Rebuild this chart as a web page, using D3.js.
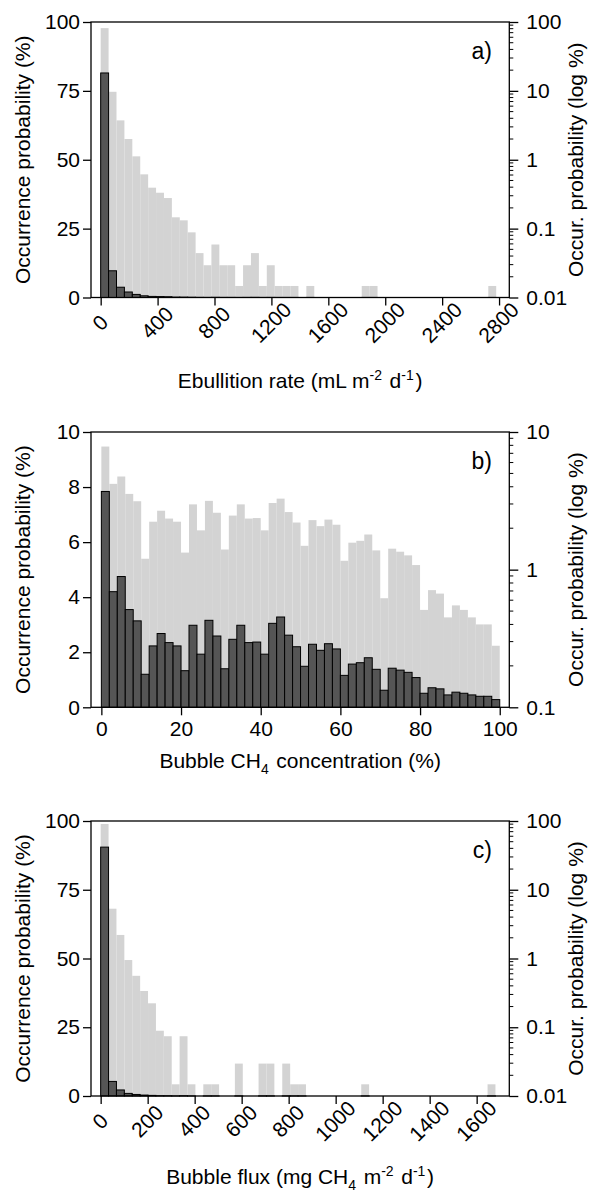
<!DOCTYPE html>
<html>
<head>
<meta charset="utf-8">
<script src="https://cdn.jsdelivr.net/npm/d3@7"></script>
<style>
  html, body { margin: 0; padding: 0; background: #fff; }
  svg { display: block; }
  text { font-family: "Liberation Sans", Arial, Helvetica, sans-serif; fill: #000; }
</style>
</head>
<body>
<div id="chart"></div>
<script>
// ---------------- DATA ----------------
// a) Ebullition rate histogram (bin width ~55.6 mL m-2 d-1), occurrence probability (%)
const binWidthA = 55.6;
const probA = [81.5, 9.7, 3.73, 2.0, 1.12, 0.614, 0.393, 0.332, 0.278, 0.146,
               0.132, 0.0883, 0.0441, 0.0294, 0.0588, 0.0294, 0.0294, 0.0147, 0.0294, 0.0441,
               0.0147, 0.0294, 0.0147, 0.0147, 0.0147, 0, 0.0147, 0, 0, 0,
               0, 0, 0, 0.0147, 0.0147, 0, 0, 0, 0, 0,
               0, 0, 0, 0, 0, 0, 0, 0, 0, 0.0147];
const xTicksA = [0, 400, 800, 1200, 1600, 2000, 2400, 2800];

// b) Bubble CH4 concentration histogram (bin width 2 %)
const binWidthB = 2;
const probB = [7.84, 4.20, 4.75, 3.55, 3.14, 1.20, 2.23, 2.68, 2.35, 2.23,
               1.33, 2.98, 1.93, 3.16, 2.59, 1.40, 2.47, 2.98, 2.35, 2.37,
               1.93, 3.05, 3.28, 2.62, 2.20, 1.49, 2.29, 2.07, 2.31, 2.12,
               1.16, 1.57, 1.62, 1.80, 1.38, 0.62, 1.42, 1.35, 1.27, 1.08,
               0.51, 0.71, 0.67, 0.45, 0.55, 0.51, 0.45, 0.40, 0.40, 0.28];
const xTicksB = [0, 20, 40, 60, 80, 100];

// c) Bubble flux histogram (bin width 33.6 mg CH4 m-2 d-1)
const binWidthC = 33.6;
const probC = [90.5, 5.3, 2.2, 0.95, 0.56, 0.337, 0.223, 0.089, 0.074, 0.0148,
               0.074, 0.0148, 0, 0.0148, 0.0148, 0, 0, 0.0296, 0, 0,
               0.0296, 0.0296, 0, 0.0296, 0.0148, 0.0148, 0, 0, 0, 0,
               0, 0, 0, 0.0148, 0, 0, 0, 0, 0, 0,
               0, 0, 0, 0, 0, 0, 0, 0, 0, 0.0148];
const xTicksC = [0, 200, 400, 600, 800, 1000, 1200, 1400, 1600];

const linTicks100 = [0, 25, 50, 75, 100];
const linTicks10 = [0, 2, 4, 6, 8, 10];
const logTicks4 = [0.01, 0.1, 1, 10, 100];
const logLabels4 = ["0.01", "0.1", "1", "10", "100"];
const logTicks2 = [0.1, 1, 10];
const logLabels2 = ["0.1", "1", "10"];

// ---------------- LAYOUT ----------------
const W = 589, H = 1195;
const X0 = 91, X1 = 509.3;
const FS = 21;
const svg = d3.select("#chart").append("svg").attr("width", W).attr("height", H);

function panel(cfg) {
  const g = svg.append("g");
  const x = d3.scaleLinear().domain(cfg.xDomain).range([X0, X1]);
  const yLin = d3.scaleLinear().domain([0, cfg.linMax]).range([cfg.bottom, cfg.top]);
  const yLog = d3.scaleLog().domain([cfg.logMin, cfg.logMax]).range([cfg.bottom, cfg.top]);
  const bins = cfg.values.map((v, i) => ({ v, x0: i * cfg.binWidth, x1: (i + 1) * cfg.binWidth }));

  // light bars: log scale
  g.append("g").selectAll("rect").data(bins.filter(d => d.v > 0)).join("rect")
    .attr("x", d => x(d.x0)).attr("width", d => x(d.x1) - x(d.x0))
    .attr("y", d => yLog(d.v)).attr("height", d => yLog(cfg.logMin) - yLog(d.v))
    .attr("fill", "#d3d3d3");

  // dark bars: linear scale
  g.append("g").selectAll("rect").data(bins.filter(d => d.v > 0)).join("rect")
    .attr("x", d => x(d.x0)).attr("width", d => x(d.x1) - x(d.x0))
    .attr("y", d => yLin(d.v)).attr("height", d => yLin(0) - yLin(d.v))
    .attr("fill", "#555555").attr("stroke", "#000").attr("stroke-width", 1);

  // frame
  g.append("rect").attr("x", X0).attr("y", cfg.top).attr("width", X1 - X0).attr("height", cfg.bottom - cfg.top)
    .attr("fill", "none").attr("stroke", "#000").attr("stroke-width", 1.3);

  // left axis
  const yl = d3.axisLeft(yLin).tickValues(cfg.linTicks).tickSize(8).tickPadding(3).tickFormat(d3.format("d"));
  const gl = g.append("g").attr("transform", `translate(${X0},0)`).call(yl);
  gl.select(".domain").remove();
  gl.selectAll(".tick line").attr("stroke-width", 1.3);
  gl.selectAll(".tick text").attr("font-size", FS).style("font-family", "Liberation Sans, Arial, sans-serif").attr("fill", "#000");

  // right axis (log) major
  const yr = d3.axisRight(yLog).tickValues(cfg.logTicks).tickSize(9).tickPadding(8)
    .tickFormat((d, i) => cfg.logLabels[i]);
  const gr = g.append("g").attr("transform", `translate(${X1},0)`).call(yr);
  gr.select(".domain").remove();
  gr.selectAll(".tick line").attr("stroke-width", 1.3);
  gr.selectAll(".tick text").attr("font-size", FS).style("font-family", "Liberation Sans, Arial, sans-serif").attr("fill", "#000");
  // right axis minor ticks
  const minors = [];
  cfg.logTicks.slice(0, -1).forEach(dec => { for (let k = 2; k <= 9; k++) minors.push(dec * k); });
  g.append("g").selectAll("line").data(minors).join("line")
    .attr("x1", X1).attr("x2", X1 + 4).attr("y1", d => yLog(d)).attr("y2", d => yLog(d))
    .attr("stroke", "#000").attr("stroke-width", 1);

  // bottom axis
  const xb = d3.axisBottom(x).tickValues(cfg.xTicks).tickSize(8).tickFormat(d3.format("d"));
  const gb = g.append("g").attr("transform", `translate(0,${cfg.bottom})`).call(xb);
  gb.select(".domain").remove();
  gb.selectAll(".tick line").attr("stroke-width", 1.3);
  const tt = gb.selectAll(".tick text").attr("font-size", FS).style("font-family", "Liberation Sans, Arial, sans-serif").attr("fill", "#000");
  if (cfg.rotate) {
    tt.attr("y", null).attr("dy", null)
      .attr("text-anchor", "middle")
      .attr("dominant-baseline", "central")
      .attr("transform", "translate(-1,25) rotate(-45)");
  } else {
    tt.attr("y", 14).attr("dy", "0.71em");
  }

  // axis titles
  g.append("text").attr("transform", `translate(30,${(cfg.top + cfg.bottom) / 2}) rotate(-90)`)
    .attr("text-anchor", "middle").attr("font-size", FS).text("Occurrence probability (%)");
  g.append("text").attr("transform", `translate(583,${(cfg.top + cfg.bottom) / 2}) rotate(-90)`)
    .attr("text-anchor", "middle").attr("font-size", FS).text("Occur. probability (log %)");

  // panel label
  g.append("text").attr("x", 492).attr("y", cfg.top + 37).attr("text-anchor", "end")
    .attr("font-size", 23).text(cfg.label);

  // x title with sub/superscripts
  const t = g.append("text").attr("x", (X0 + X1) / 2).attr("y", cfg.titleY)
    .attr("text-anchor", "middle").attr("font-size", FS);
  cfg.title.forEach(p => {
    if (p.sup) {
      t.append("tspan").attr("dy", -8).attr("font-size", 14).text(p.sup);
      t.append("tspan").attr("dy", 8).text("\u200A");
    } else if (p.sub) {
      t.append("tspan").attr("dy", 6).attr("font-size", 14).text(p.sub);
      t.append("tspan").attr("dy", -6).text("\u200A");
    } else {
      t.append("tspan").text(p.t);
    }
  });
}

panel({
  top: 22, bottom: 297.5, xDomain: [-68, 2872], xTicks: xTicksA, rotate: true,
  linMax: 100, linTicks: linTicks100, logMin: 0.01, logMax: 100, logTicks: logTicks4, logLabels: logLabels4,
  values: probA, binWidth: binWidthA, label: "a)", titleY: 388,
  title: [{ t: "Ebullition rate (mL m" }, { sup: "-2" }, { t: " d" }, { sup: "-1" }, { t: ")" }]
});
panel({
  top: 432, bottom: 707.3, xDomain: [-2.6, 102.4], xTicks: xTicksB, rotate: false,
  linMax: 10, linTicks: linTicks10, logMin: 0.1, logMax: 10, logTicks: logTicks2, logLabels: logLabels2,
  values: probB, binWidth: binWidthB, label: "b)", titleY: 768,
  title: [{ t: "Bubble CH" }, { sub: "4" }, { t: " concentration (%)" }]
});
panel({
  top: 821, bottom: 1096, xDomain: [-41.1, 1738.9], xTicks: xTicksC, rotate: true,
  linMax: 100, linTicks: linTicks100, logMin: 0.01, logMax: 100, logTicks: logTicks4, logLabels: logLabels4,
  values: probC, binWidth: binWidthC, label: "c)", titleY: 1184,
  title: [{ t: "Bubble flux (mg CH" }, { sub: "4" }, { t: " m" }, { sup: "-2" }, { t: " d" }, { sup: "-1" }, { t: ")" }]
});
</script>
</body>
</html>
